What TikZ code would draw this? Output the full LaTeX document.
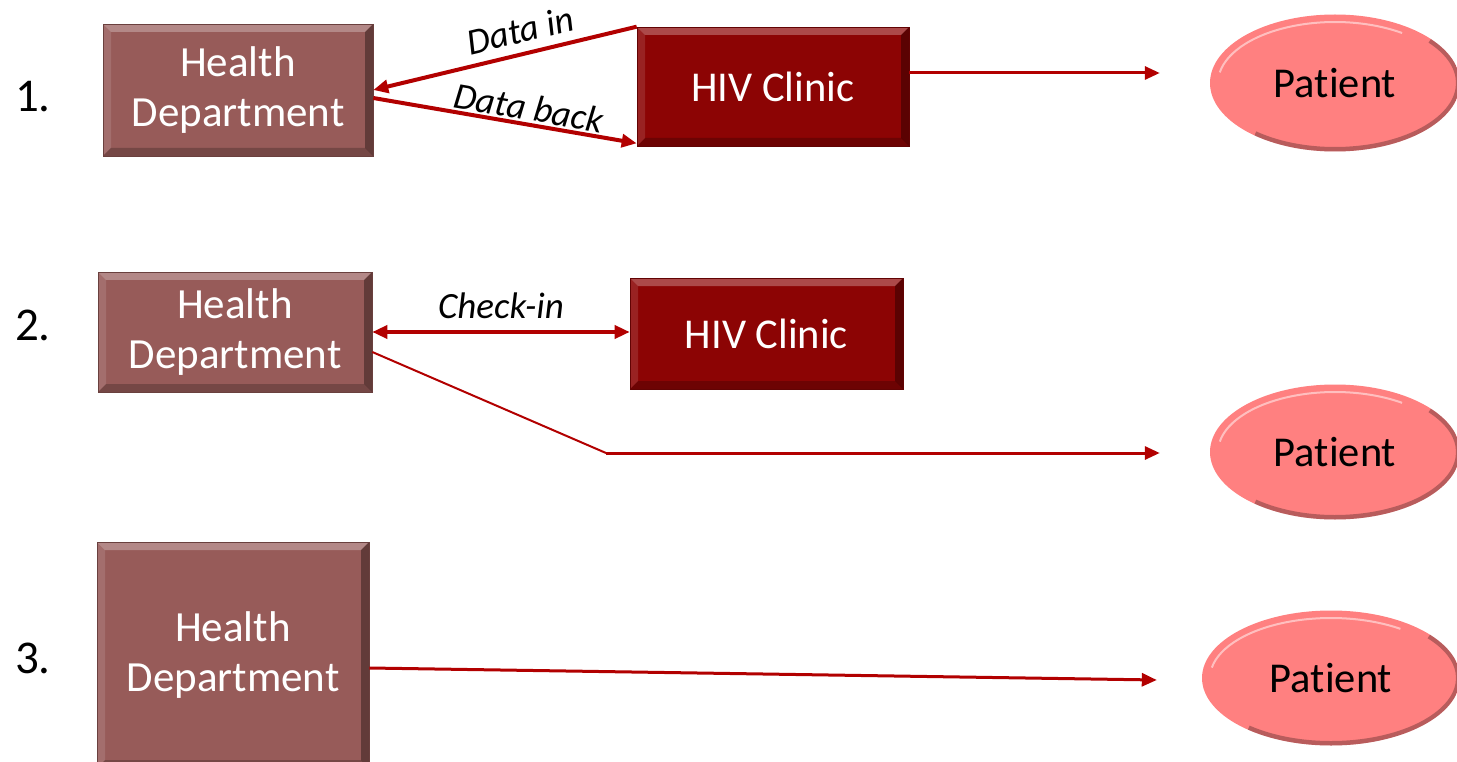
\documentclass[tikz,border=0pt]{standalone}
\usepackage{fontspec}
\setmainfont[RawFeature={-liga;-clig;-calt}]{Carlito}
\usetikzlibrary{arrows.meta,calc,shapes.geometric}
\definecolor{hdfill}{RGB}{151,91,89}
\definecolor{hivfill}{RGB}{140,4,4}
\definecolor{patfill}{RGB}{255,128,128}
\definecolor{arrowc}{RGB}{178,0,0}
\tikzset{
  bevel/.style={path picture={
    \fill[white,opacity=0.28] (path picture bounding box.north west) -- (path picture bounding box.north east)
      -- ([shift={(-8pt,-8pt)}]path picture bounding box.north east) -- ([shift={(8pt,-8pt)}]path picture bounding box.north west) -- cycle;
    \fill[white,opacity=0.12] (path picture bounding box.north west) -- ([shift={(8pt,-8pt)}]path picture bounding box.north west)
      -- ([shift={(8pt,8pt)}]path picture bounding box.south west) -- (path picture bounding box.south west) -- cycle;
    \fill[black,opacity=0.35] (path picture bounding box.north east) -- ([shift={(-8pt,-8pt)}]path picture bounding box.north east)
      -- ([shift={(-8pt,8pt)}]path picture bounding box.south east) -- (path picture bounding box.south east) -- cycle;
    \fill[black,opacity=0.22] (path picture bounding box.south west) -- ([shift={(8pt,8pt)}]path picture bounding box.south west)
      -- ([shift={(-8pt,8pt)}]path picture bounding box.south east) -- (path picture bounding box.south east) -- cycle;
  }},
  hdbox/.style={rectangle, fill=hdfill, draw=hdfill!70!black, line width=0.6pt, bevel, text=white, align=center,
    font=\fontsize{43}{50}\selectfont, inner sep=0pt},
  hivbox/.style={rectangle, fill=hivfill, draw=hivfill!70!black, line width=0.6pt, bevel, text=white, align=center,
    font=\fontsize{42.5}{48}\selectfont, inner sep=0pt},
  patell/.style={ellipse, fill=patfill, inner sep=0pt, font=\fontsize{42.5}{48}\selectfont, text=black,
    path picture={
      \draw[black,opacity=0.28,line width=8pt] ([shift={(-130:\rx pt and \ry pt)}]path picture bounding box.center)
        arc[start angle=-130,end angle=40,x radius=\rx pt,y radius=\ry pt];
      \draw[white,opacity=0.5,line width=2pt] ([shift={(170:\rx pt-8pt and \ry pt-7pt)}]path picture bounding box.center)
        arc[start angle=170,end angle=55,x radius=\rx pt-8pt,y radius=\ry pt-7pt];
    }},
  num/.style={font=\fontsize{47}{50}\selectfont, text=black},
  lab/.style={font=\fontsize{37}{40}\selectfont\itshape, text=black, inner sep=2pt},
  conn/.style={draw=arrowc, line width=3.5pt, -{Triangle[length=15pt,width=13pt]}},
}
\begin{document}
\begin{tikzpicture}[x=1pt,y=-1pt]
\useasboundingbox (0,0) rectangle (1457,762);
\clip (0,0) rectangle (1457,762);

% numbers
\node[num] (n1) at (33,97) {1.};
\node[num] (n2) at (33,325) {2.};
\node[num] (n3) at (33,658) {3.};

% row 1
\node[hdbox, minimum width=270pt, minimum height=132pt] (hd1) at (238,90) {Health\\Department};
\node[hivbox, minimum width=272pt, minimum height=119pt] (hiv1) at (773,86.5) {HIV Clinic};
\def\rx{125}\def\ry{68}
\node[patell, minimum width=250pt, minimum height=137pt] (pat1) at (1335,83) {Patient};

\draw[conn, line width=4pt] (hiv1.north west) -- node[lab, sloped, above=7pt, pos=0.42] {Data in} (hd1.east);
\draw[conn, line width=4pt] ([yshift=-8pt]hd1.east) -- node[lab, sloped, above=0pt, pos=0.58] {Data back} ([yshift=3pt]hiv1.south west);
\coordinate (p1end) at ([xshift=-50pt,yshift=10pt]pat1.west);
\draw[conn, line width=3pt] (hiv1.east |- p1end) -- (p1end);

% row 2
\node[hdbox, minimum width=274pt, minimum height=120pt] (hd2) at (235,332) {Health\\Department};
\node[hivbox, minimum width=273pt, minimum height=111pt] (hiv2) at (766.5,333.5) {HIV Clinic};
\def\ry{67}
\node[patell, minimum width=250pt, minimum height=135pt] (pat2) at (1335,452) {Patient};

\draw[draw=arrowc, line width=3.5pt, {Triangle[length=15pt,width=13pt]}-{Triangle[length=15pt,width=13pt]}]
  (hd2.east) -- node[lab, above=9pt] {Check-in} (hd2.east -| hiv2.west);
\coordinate (bend2) at (606,453);
\coordinate (p2end) at ([xshift=-50pt]pat2.west);
\draw[draw=arrowc, line width=2pt] ([yshift=-20pt]hd2.east) -- (bend2);
\draw[conn, line width=3pt] (bend2) -- (bend2 -| p2end);

% row 3
\node[hdbox, minimum width=272pt, minimum height=226pt] (hd3) at (233,655) {Health\\Department};
\def\rx{129}
\node[patell, minimum width=258pt, minimum height=135pt] (pat3) at (1331,678) {Patient};
\draw[conn, line width=3pt] ([yshift=-13pt]hd3.east) -- ([xshift=-45pt,yshift=-2pt]pat3.west);

\end{tikzpicture}
\end{document}
